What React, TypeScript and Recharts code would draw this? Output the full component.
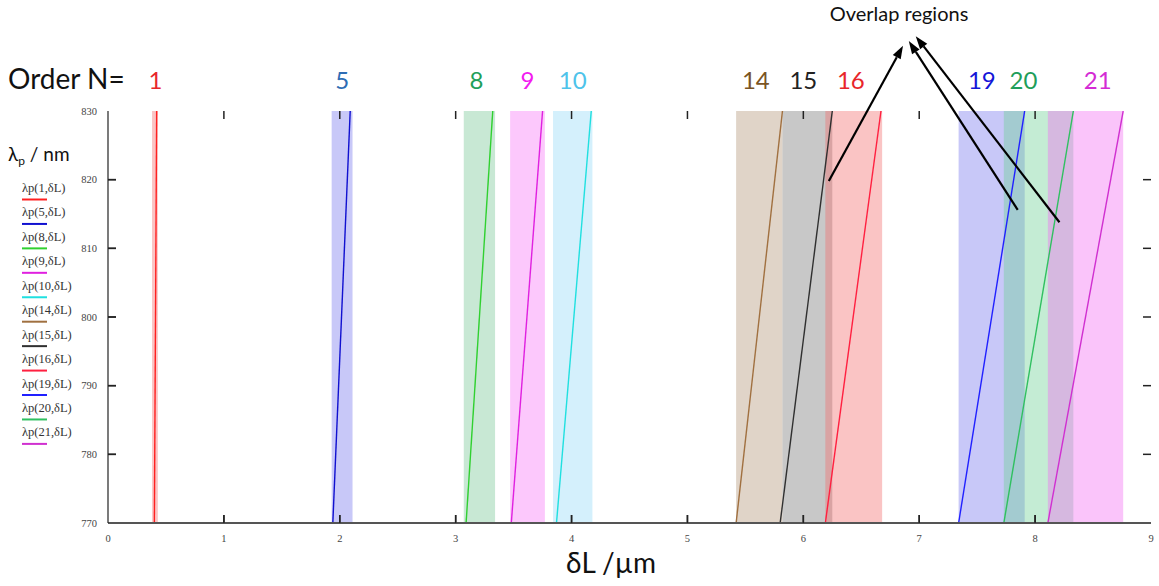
import React from "react";
import { LineChart, Line, XAxis, YAxis, ReferenceArea, ReferenceLine } from "recharts";

const orders = [1, 5, 8, 9, 10, 14, 15, 16, 19, 20, 21];
// δL (µm) where each λp(N, δL) curve sits at 770 nm and at 830 nm
const deltaAt770 = [0.4, 1.94, 3.09, 3.48, 3.87, 5.42, 5.8, 6.19, 7.34, 7.73, 8.11];
const deltaAt830 = [0.42, 2.09, 3.32, 3.75, 4.17, 5.82, 6.25, 6.67, 7.91, 8.33, 8.76];
// shaded tuning range of each order
const bandFrom = [0.38, 1.93, 3.07, 3.47, 3.84, 5.42, 5.82, 6.19, 7.34, 7.73, 8.11];
const bandTo = [0.43, 2.11, 3.34, 3.77, 4.18, 5.82, 6.25, 6.68, 7.91, 8.33, 8.76];
// where the "Order N=" numbers sit along δL
const orderLabelX = [0.41, 2.02, 3.18, 3.62, 4.01, 5.59, 6.0, 6.41, 7.54, 7.9, 8.54];

const lineColors = ["#ff2020", "#1010d0", "#30d030", "#e020e0", "#20e0e0", "#a07040", "#303030", "#ff2040", "#2020ff", "#30c060", "#d030d0"];
const bandColors = ["#f26b6b", "#7575ed", "#75c693", "#f775f7", "#93d9f7", "#b19375", "#757575", "#f26b6b", "#7575ed", "#6bcf93", "#f26bf2"];
const labelColors = ["#e8262a", "#2e6db4", "#1fa05a", "#f21cf0", "#4ec3ea", "#7a5424", "#222222", "#e8262a", "#1515d8", "#1e9e5a", "#d42bd4"];

const xTicks = [0, 1, 2, 3, 4, 5, 6, 7, 8, 9];
const yTicks = [770, 780, 790, 800, 810, 820, 830];

// "Overlap regions" arrows: tail inside the plot, tip above it (δL, nm)
const arrowTailX = [6.22, 7.85, 8.21];
const arrowTailY = [819.8, 815.6, 813.8];
const arrowTipX = [6.86, 6.91, 6.97];
const arrowTipY = [839.5, 840.2, 840.9];

const serif = "'Liberation Serif', 'DejaVu Serif', serif";
const sans = "Lato, 'Open Sans', sans-serif";
const tickStroke = "#222";
const TICK_PX = 8;

// chart frame
const W = 1159;
const H = 586;
const MARGIN = { top: 111, right: 8, bottom: 33, left: 68 };
const Y_AXIS_W = 40;
const X_AXIS_H = 30;
const plotLeft = MARGIN.left + Y_AXIS_W;
const plotTop = MARGIN.top;
const plotW = W - plotLeft - MARGIN.right;
const plotH = H - MARGIN.top - MARGIN.bottom - X_AXIS_H;

// inward tick marks at both ends of a full-span ReferenceLine
const BothEndTicks = (p: any) => {
  const dx = p.x2 - p.x1;
  const dy = p.y2 - p.y1;
  const d = Math.hypot(dx, dy) || 1;
  const ux = (dx / d) * TICK_PX;
  const uy = (dy / d) * TICK_PX;
  return (
    <g>
      <line x1={p.x1} y1={p.y1} x2={p.x1 + ux} y2={p.y1 + uy} stroke={tickStroke} strokeWidth={1.5} />
      <line x1={p.x2} y1={p.y2} x2={p.x2 - ux} y2={p.y2 - uy} stroke={tickStroke} strokeWidth={1.5} />
    </g>
  );
};

const Arrow = (p: any) => {
  const a = Math.atan2(p.y2 - p.y1, p.x2 - p.x1);
  const bx = p.x2 - 13 * Math.cos(a);
  const by = p.y2 - 13 * Math.sin(a);
  const px = -Math.sin(a) * 4.5;
  const py = Math.cos(a) * 4.5;
  return (
    <g>
      <line x1={p.x1} y1={p.y1} x2={bx} y2={by} stroke="#000" strokeWidth={2.2} />
      <polygon points={`${p.x2},${p.y2} ${bx + px},${by + py} ${bx - px},${by - py}`} fill="#000" />
    </g>
  );
};

export default function App() {
  return (
    <div style={{ position: "absolute", left: 0, top: 0, width: W, height: H, background: "#fff" }}>
      <LineChart width={W} height={H} margin={MARGIN}>
        <XAxis
          dataKey="x"
          type="number"
          domain={[0, 9]}
          ticks={xTicks}
          interval={0}
          allowDataOverflow
          height={X_AXIS_H}
          tickSize={0}
          tickMargin={12}
          tick={{ fontSize: 10.5, fontFamily: serif, fill: "#444" }}
          tickLine={false}
          axisLine={{ stroke: "#555", strokeWidth: 2 }}
        />
        <XAxis
          xAxisId="top"
          orientation="top"
          type="number"
          domain={[0, 9]}
          ticks={xTicks}
          height={0}
          tick={false}
          tickLine={false}
          axisLine={{ stroke: "#222", strokeWidth: 1.2 }}
        />
        <YAxis
          type="number"
          domain={[770, 830]}
          ticks={yTicks}
          interval={0}
          allowDataOverflow
          width={Y_AXIS_W}
          tickSize={0}
          tickMargin={11}
          tick={{ fontSize: 10.5, fontFamily: serif, fill: "#444" }}
          tickLine={false}
          axisLine={{ stroke: "#222", strokeWidth: 1.2 }}
        />
        <YAxis
          yAxisId="right"
          orientation="right"
          type="number"
          domain={[770, 830]}
          ticks={yTicks}
          width={0}
          tick={false}
          tickLine={false}
          axisLine={{ stroke: "#222", strokeWidth: 1.2 }}
        />
        {orders.map((n, i) => (
          <ReferenceArea
            key={`band-${n}`}
            x1={bandFrom[i]}
            x2={bandTo[i]}
            y1={770}
            y2={830}
            fill={bandColors[i]}
            fillOpacity={0.4}
            stroke="none"
          />
        ))}
        {orders.map((n, i) => (
          <Line
            key={`line-${n}`}
            data={[
              { x: deltaAt770[i], y: 770 },
              { x: deltaAt830[i], y: 830 },
            ]}
            dataKey="y"
            type="linear"
            stroke={lineColors[i]}
            strokeWidth={1.4}
            dot={false}
            activeDot={false}
            isAnimationActive={false}
            name={`λp(${n},δL)`}
          />
        ))}
        {xTicks.slice(1, -1).map((t) => (
          <ReferenceLine
            key={`xt-${t}`}
            segment={[
              { x: t, y: 770 },
              { x: t, y: 830 },
            ]}
            ifOverflow="visible"
            shape={BothEndTicks}
          />
        ))}
        {yTicks.slice(1, -1).map((t) => (
          <ReferenceLine
            key={`yt-${t}`}
            segment={[
              { x: 0, y: t },
              { x: 9, y: t },
            ]}
            ifOverflow="visible"
            shape={BothEndTicks}
          />
        ))}
        {orders.map((n, i) => (
          <ReferenceLine
            key={`lab-${n}`}
            x={orderLabelX[i]}
            stroke="none"
            label={{
              value: String(n),
              position: "top",
              offset: 22,
              fill: labelColors[i],
              fontSize: 24,
              fontFamily: sans,
            }}
          />
        ))}
        {arrowTailX.map((_, i) => (
          <ReferenceLine
            key={`arrow-${i}`}
            segment={[
              { x: arrowTailX[i], y: arrowTailY[i] },
              { x: arrowTipX[i], y: arrowTipY[i] },
            ]}
            ifOverflow="visible"
            shape={Arrow}
          />
        ))}
      </LineChart>
      <svg width={W} height={H} style={{ position: "absolute", left: 0, top: 0, pointerEvents: "none" }}>
        {/* bottom and left inward tick marks on the frame */}
        {xTicks.slice(1, -1).map((t) => {
          const x = plotLeft + (t / 9) * plotW;
          return (
            <line
              key={`bt-${t}`}
              x1={x}
              x2={x}
              y1={plotTop + plotH}
              y2={plotTop + plotH - TICK_PX}
              stroke={tickStroke}
              strokeWidth={1.5}
            />
          );
        })}
        {yTicks.slice(1, -1).map((v) => {
          const y = plotTop + ((830 - v) / 60) * plotH;
          return (
            <line
              key={`lt-${v}`}
              x1={plotLeft}
              x2={plotLeft + TICK_PX}
              y1={y}
              y2={y}
              stroke={tickStroke}
              strokeWidth={1.5}
            />
          );
        })}
        <text x={8} y={89} fontSize={28} fontFamily={sans} fill="#111">
          Order N=
        </text>
        <text x={899} y={21} fontSize={20} fontFamily={sans} fill="#111" textAnchor="middle">
          Overlap regions
        </text>
        <text x={611} y={573} fontSize={28} fontFamily={sans} fill="#111" textAnchor="middle">
          δL /µm
        </text>
        <text x={8} y={161} fontSize={19} fontFamily={sans} fill="#111">
          λ<tspan fontSize={12} dy={4}>p</tspan>
          <tspan dy={-4}> / nm</tspan>
        </text>
        {orders.map((n, i) => (
          <g key={`leg-${n}`}>
            <text x={22} y={192 + i * 24.44} fontSize={12.5} fontFamily={serif} fill="#333">
              {`λp(${n},δL)`}
            </text>
            <line
              x1={22}
              x2={47}
              y1={199.5 + i * 24.44}
              y2={199.5 + i * 24.44}
              stroke={lineColors[i]}
              strokeWidth={2}
            />
          </g>
        ))}
      </svg>
    </div>
  );
}
